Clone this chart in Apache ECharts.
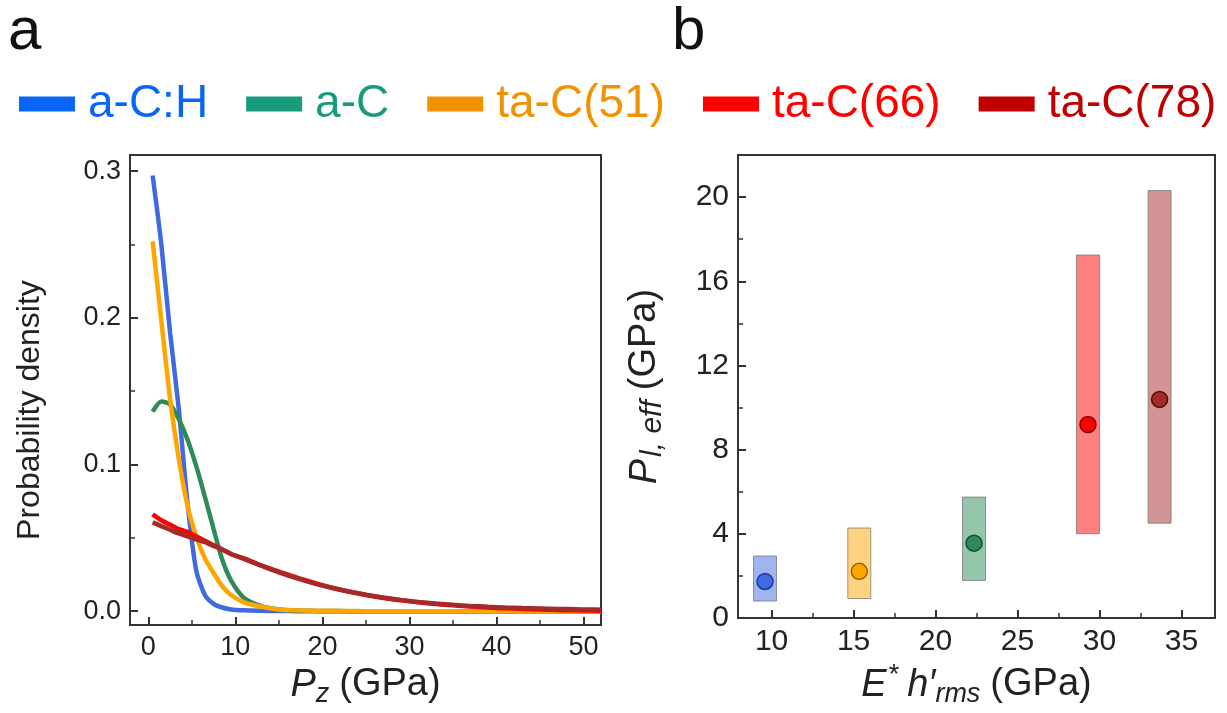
<!DOCTYPE html>
<html><head><meta charset="utf-8">
<script src="https://cdn.jsdelivr.net/npm/echarts@6/dist/echarts.min.js"></script>
<style>html,body{margin:0;padding:0;background:#fff}#c{width:1227px;height:713px}</style>
</head><body><div id="c"></div>
<script>
// ---------- data ----------
const materials = ['a-C:H', 'a-C', 'ta-C(51)', 'ta-C(66)', 'ta-C(78)'];
const legendColors = ['#0a64f5', '#179b7c', '#f39200', '#ff0000', '#c00000'];
const lineColors = ['#4169e1', '#2e8b57', '#ffa500', '#ff0000', '#a52a2a'];
const barFills = ['#a0b4f0', '#96c5ab', '#ffd280', '#ff8080', '#d29494'];
const pointEdges = ['#1c3c99', '#14502c', '#9a6200', '#8b0000', '#5a0a0a'];

// panel a: probability density vs Pz (GPa)
const pzGPa = [0.5,1.5,2.5,3.5,4.5,5.5,6.5,7.5,8.5,9.5,11,13,15,17,19,21,23,25,27,29,31,33,35,37,39,41,43,45,47,49,51,52];
const densACH  = [0.297,0.250,0.190,0.138,0.074,0.028,0.011,0.005,0.0025,0.0012,0.0006,0.0003,0.0001,0,0,0,0,0,0,0,0,0,0,0,0,0,0,0,0,0,0,0];
const densAC   = [0.136,0.143,0.141,0.131,0.117,0.099,0.078,0.056,0.035,0.021,0.009,0.0035,0.0012,0.0005,0.0002,0.0001,0,0,0,0,0,0,0,0,0,0,0,0,0,0,0,0];
const densTAC51= [0.252,0.198,0.145,0.104,0.072,0.051,0.036,0.026,0.017,0.011,0.006,0.003,0.0012,0.0006,0.0003,0.0002,0.0001,0,0,0,0,0,0,0,0,0,0,0,0,0,0,0];
const densTAC66= [0.066,0.062,0.059,0.056,0.054,0.051,0.048,0.045,0.042,0.039,0.036,0.031,0.027,0.023,0.0195,0.0162,0.0134,0.011,0.009,0.0074,0.006,0.0049,0.004,0.0032,0.0025,0.002,0.0015,0.0011,0.0008,0.0006,0.0004,0.0003];
const densTAC78= [0.0605,0.058,0.0555,0.053,0.051,0.049,0.047,0.0445,0.042,0.039,0.0355,0.031,0.0265,0.0225,0.019,0.016,0.0134,0.0112,0.0093,0.0077,0.0063,0.0052,0.0043,0.0036,0.003,0.0025,0.0021,0.0018,0.0015,0.0013,0.0011,0.001];
const densities = [densACH, densAC, densTAC51, densTAC66, densTAC78];

// panel b: effective pressure (GPa) vs E* h'rms (GPa)
const eHrms   = [9.6, 22.35, 15.35, 29.3, 33.67];
const pEffLow = [0.81, 1.79, 0.93, 4.01, 4.51];
const pEffHigh= [2.95, 5.75, 4.28, 17.25, 20.31];
const pEffMean= [1.74, 3.56, 2.22, 9.2, 10.39];

// axes / ticks
const aXMajor = [0, 10, 20, 30, 40, 50];
const aXMinor = [5, 15, 25, 35, 45];
const aYMajor = [0, 0.1, 0.2, 0.3];
const aYMinor = [0.05, 0.15, 0.25];
const bXMajor = [10, 15, 20, 25, 30, 35];
const bXMinor = [12.5, 17.5, 22.5, 27.5, 32.5];
const bYMajor = [0, 4, 8, 12, 16, 20];
const bYMinor = [2, 6, 10, 14, 18];
const aXRange = [-2.1, 52.0];
const aYRange = [-0.0095, 0.311];
const bXRange = [7.95, 37.05];
const bYRange = [0, 22];

// ---------- chart ----------
const FF = "'Liberation Sans', Arial, sans-serif";
const INK = '#222';
const AX = '#333';

function majorAxis(grid, range, major, fontSize, fmt, extra) {
  return Object.assign({
    type: 'value', gridIndex: grid, min: range[0], max: range[1],
    axisLine: { show: true, onZero: false, lineStyle: { color: AX, width: 2 } },
    axisTick: { show: true, inside: true, length: 8, customValues: major, lineStyle: { color: AX, width: 2 } },
    axisLabel: { show: true, customValues: major, fontSize: fontSize, fontFamily: FF, color: INK, margin: 9, formatter: fmt },
    splitLine: { show: false }
  }, extra || {});
}
function minorAxis(grid, range, minor, pos) {
  return {
    type: 'value', gridIndex: grid, min: range[0], max: range[1], position: pos,
    axisLine: { show: false, onZero: false },
    axisTick: { show: true, inside: true, length: 5, customValues: minor, lineStyle: { color: AX, width: 1.5 } },
    axisLabel: { show: false }, splitLine: { show: false }
  };
}
const richT = {
  n: { fontSize: 38, fontFamily: FF, color: INK, lineHeight: 46, verticalAlign: 'middle' },
  i: { fontSize: 38, fontFamily: FF, color: INK, fontStyle: 'italic', lineHeight: 46, verticalAlign: 'middle' },
  sub: { fontSize: 27, fontFamily: FF, color: INK, fontStyle: 'italic', lineHeight: 27, verticalAlign: 'bottom' },
  subw: { fontSize: 30, fontFamily: FF, color: INK, fontStyle: 'italic', lineHeight: 30, verticalAlign: 'bottom', padding: [0, 0, 0, 2] },
  sup: { fontSize: 27, fontFamily: FF, color: INK, lineHeight: 27, verticalAlign: 'top', padding: [0, 8, 0, 2] },
  sp: { fontSize: 38, fontFamily: FF, color: INK, lineHeight: 46, verticalAlign: 'middle', padding: [0, 0, 0, 10] }
};

const series = [];
materials.forEach((m, k) => {
  series.push({
    name: m, type: 'line', xAxisIndex: 0, yAxisIndex: 0,
    data: pzGPa.map((x, i) => [x, densities[k][i]]),
    showSymbol: false, symbol: 'none', smooth: 0.25,
    lineStyle: { color: lineColors[k], width: 4.5 }, itemStyle: { color: lineColors[k] },
    z: 2 + k
  });
});
materials.forEach((m, k) => {
  series.push({
    name: m, type: 'custom', xAxisIndex: 2, yAxisIndex: 2,
    data: [[eHrms[k], pEffLow[k], pEffHigh[k]]],
    encode: { x: 0, y: [1, 2] },
    itemStyle: { color: barFills[k] },
    renderItem: function (params, api) {
      const x = api.value(0), lo = api.value(1), hi = api.value(2);
      const p1 = api.coord([x, hi]), p2 = api.coord([x, lo]);
      const w = 23;
      return { type: 'rect', shape: { x: p1[0] - w / 2, y: p1[1], width: w, height: p2[1] - p1[1] },
        style: { fill: barFills[k], stroke: 'rgba(110,110,110,0.7)', lineWidth: 1 } };
    },
    z: 2
  });
  series.push({
    name: m, type: 'scatter', xAxisIndex: 2, yAxisIndex: 2,
    data: [[eHrms[k], pEffMean[k]]],
    symbolSize: 16,
    itemStyle: { color: lineColors[k], borderColor: pointEdges[k], borderWidth: 1.5, opacity: 1 },
    z: 5
  });
});

const option = {
  backgroundColor: '#fff',
  animation: false,
  textStyle: { fontFamily: FF },
  graphic: [
    { type: 'text', left: 8, top: 2, style: { text: 'a', fontSize: 60, fontFamily: FF, fill: '#111' } },
    { type: 'text', left: 672, top: 2, style: { text: 'b', fontSize: 60, fontFamily: FF, fill: '#111' } }
  ],
  legend: {
    left: 14, top: 76, itemWidth: 56, itemHeight: 15, itemGap: 38,
    textStyle: { fontSize: 46, fontFamily: FF, padding: [0, 0, 0, 8] },
    data: materials.map((m, k) => ({ name: m, icon: 'rect', itemStyle: { color: legendColors[k], borderWidth: 0 }, textStyle: { color: legendColors[k] } })),
    selectedMode: false
  },
  grid: [
    { left: 130, top: 155, width: 471, height: 471, show: true, borderColor: AX, borderWidth: 2, backgroundColor: 'transparent' },
    { left: 738, top: 155, width: 477, height: 472, show: true, borderColor: AX, borderWidth: 2, backgroundColor: 'transparent' }
  ],
  xAxis: [
    majorAxis(0, aXRange, aXMajor, 27, v => String(v), {
      position: 'bottom', name: '{i|P}{sub|z}{sp|(GPa)}', nameLocation: 'middle', nameGap: 36,
      nameTextStyle: { rich: richT }
    }),
    minorAxis(0, aXRange, aXMinor, 'bottom'),
    majorAxis(1, bXRange, bXMajor, 30, v => String(v), {
      position: 'bottom', name: '{i|E}{sup|*}{i|h′}{sub|rms}{sp|(GPa)}', nameLocation: 'middle', nameGap: 34,
      nameTextStyle: { rich: richT }
    }),
    minorAxis(1, bXRange, bXMinor, 'bottom')
  ],
  yAxis: [
    majorAxis(0, aYRange, aYMajor, 27, v => v.toFixed(1), {
      position: 'left', name: 'Probability density', nameLocation: 'middle', nameGap: 84,
      nameTextStyle: { fontSize: 32, fontFamily: FF, color: INK, padding: [0, 40, 0, 0] }
    }),
    minorAxis(0, aYRange, aYMinor, 'left'),
    majorAxis(1, bYRange, bYMajor, 30, v => String(v), {
      position: 'left', name: '{i|P}{subw|l, eff}{sp|(GPa)}', nameLocation: 'middle', nameGap: 70,
      nameTextStyle: { rich: richT }
    }),
    minorAxis(1, bYRange, bYMinor, 'left')
  ],
  series: series
};
const chart = echarts.init(document.getElementById('c'), null, { renderer: 'canvas' });
chart.setOption(option);
</script>
</body></html>
